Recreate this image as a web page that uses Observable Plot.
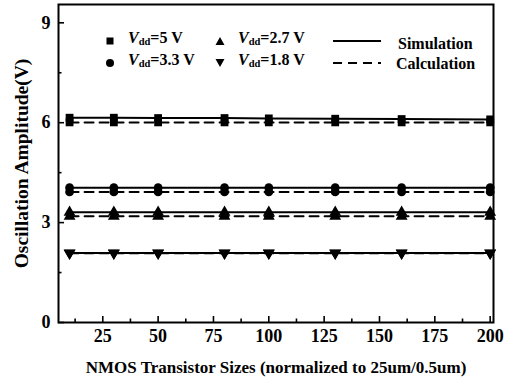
<!DOCTYPE html>
<html><head><meta charset="utf-8">
<script src="https://cdn.jsdelivr.net/npm/d3@7"></script>
<script src="https://cdn.jsdelivr.net/npm/@observablehq/plot@0.6"></script>
<style>
body{margin:0;background:#fff;font-family:"Liberation Serif","Times New Roman",Times,serif;}
#wrap{position:relative;width:506px;height:383px;}
#chart svg text{font-family:"Liberation Serif","Times New Roman",Times,serif;font-weight:bold;}
#legend{position:absolute;left:0;top:0;font-weight:bold;font-size:16px;color:#000;}
#legend .it{position:absolute;white-space:nowrap;line-height:16px;}
#legend i sub{font-style:normal;font-size:10.5px;vertical-align:-2px;}
</style></head>
<body><div id="wrap"><div id="chart"></div><div id="legend"></div></div>
<script>
const sizes = [10, 30, 50, 80, 100, 130, 160, 200];
const sim5  = [6.15, 6.15, 6.14, 6.14, 6.13, 6.12, 6.11, 6.10];
const calc5 = [6.01, 6.01, 6.01, 6.01, 6.01, 6.01, 6.01, 6.01];
const sim33  = [4.05, 4.05, 4.05, 4.05, 4.05, 4.05, 4.05, 4.05];
const calc33 = [3.92, 3.92, 3.92, 3.92, 3.92, 3.92, 3.92, 3.92];
const sim27  = [3.31, 3.31, 3.31, 3.31, 3.31, 3.31, 3.31, 3.31];
const calc27 = [3.19, 3.19, 3.19, 3.19, 3.19, 3.19, 3.19, 3.19];
const sim18  = [2.09, 2.09, 2.09, 2.09, 2.09, 2.09, 2.09, 2.09];
const calc18 = [2.08, 2.08, 2.08, 2.08, 2.08, 2.08, 2.08, 2.08];
const xTicks = [25, 50, 75, 100, 125, 150, 175, 200];
const xMinor = [12.5, 37.5, 62.5, 87.5, 112.5, 137.5, 162.5, 187.5];
const yTicks = [0, 3, 6, 9];
const yMinor = [1.5, 4.5, 7.5];

const seriesDefs = [
  {name:"5V", sim:sim5, calc:calc5, symbol:"square", rotate:0},
  {name:"3.3V", sim:sim33, calc:calc33, symbol:"circle", rotate:0},
  {name:"2.7V", sim:sim27, calc:calc27, symbol:"triangle", rotate:0},
  {name:"1.8V", sim:sim18, calc:calc18, symbol:"triangle", rotate:180},
];
const simRows = [], calcRows = [];
for (const s of seriesDefs) {
  sizes.forEach((x,i)=>{
    simRows.push({x, y:s.sim[i], k:s.name, symbol:s.symbol, rotate:s.rotate});
    calcRows.push({x, y:s.calc[i], k:s.name, symbol:s.symbol, rotate:s.rotate});
  });
}

const xDom = [5, 201.5], yDom = [0, 9.55];
const pxX = (201.5-5)/435, pxY = 9.55/318;

const marks = [
  Plot.line(calcRows, {x:"x", y:"y", z:"k", stroke:"#000", strokeWidth:2, strokeDasharray:"9,6"}),
  Plot.line(simRows, {x:"x", y:"y", z:"k", stroke:"#000", strokeWidth:2}),
  Plot.dot(calcRows, {x:"x", y:"y", symbol:"symbol", rotate:"rotate", r:4.4, fill:"#000", stroke:"none"}),
  Plot.dot(simRows, {x:"x", y:"y", symbol:"symbol", rotate:"rotate", r:4.4, fill:"#000", stroke:"none"}),
  Plot.ruleX(xTicks, {x:d=>d, y1:0, y2:6*pxY, stroke:"#000", strokeWidth:1.6}),
  Plot.ruleX(xMinor, {x:d=>d, y1:0, y2:3.5*pxY, stroke:"#000", strokeWidth:1.6}),
  Plot.ruleY(yTicks, {y:d=>d, x1:xDom[0], x2:xDom[0]+6*pxX, stroke:"#000", strokeWidth:1.6}),
  Plot.ruleY(yMinor, {y:d=>d, x1:xDom[0], x2:xDom[0]+3.5*pxX, stroke:"#000", strokeWidth:1.6}),
  Plot.axisX(xTicks, {tickSize:0, tickPadding:7, fontSize:18, fontWeight:"bold", label:"NMOS Transistor Sizes (normalized to 25um/0.5um)", labelAnchor:"center", labelArrow:"none", labelOffset:50}),
  Plot.axisY(yTicks, {tickSize:0, tickPadding:8, fontSize:18, fontWeight:"bold", label:"Oscillation Amplitude(V)", labelAnchor:"center", labelArrow:"none", labelOffset:44}),
  Plot.frame({stroke:"#000", strokeWidth:2}),
];

const chart = Plot.plot({
  width:506, height:383,
  marginLeft:58, marginRight:13, marginTop:4, marginBottom:61,
  style:{fontFamily:"'Liberation Serif', serif", fontWeight:"bold", fontSize:"18px", color:"#000", background:"#fff"},
  x:{domain:xDom}, y:{domain:yDom},
  symbol:{type:"identity"},
  marks
});
document.getElementById("chart").appendChild(chart);
chart.querySelectorAll("g[aria-label='x-axis label'] text").forEach(t=>{t.setAttribute("font-size","17");});
chart.querySelectorAll("g[aria-label='y-axis label'] text").forEach(t=>{t.setAttribute("font-size","19.5");});

// Legend
const legend = document.getElementById("legend");
function item(left, top, html){const d=document.createElement("div");d.className="it";d.style.left=left+"px";d.style.top=top+"px";d.innerHTML=html;legend.appendChild(d);}
function sym(left, top, shape){
  const s = {square:'<rect x="1.5" y="1.5" width="7" height="7"/>', circle:'<circle cx="5" cy="5" r="4"/>', up:'<path d="M5,1 L9.5,9 L0.5,9Z"/>', down:'<path d="M5,9 L9.5,1 L0.5,1Z"/>'}[shape];
  item(left, top, `<svg width="10" height="10" style="display:block"><g fill="#000">${s}</g></svg>`);
}
const vdd = v => `<i>V<sub>dd</sub></i>=${v} V`;
sym(105, 36, "square"); item(128, 30, vdd("5"));
sym(105, 58, "circle"); item(128, 52, vdd("3.3"));
sym(215, 36, "up");     item(238, 30, vdd("2.7"));
sym(215, 58, "down");   item(238, 52, vdd("1.8"));
item(333, 32, '<svg width="48" height="16" style="display:block"><line x1="0" y1="9" x2="48" y2="9" stroke="#000" stroke-width="2"/></svg>');
item(333, 54, '<svg width="48" height="16" style="display:block"><line x1="0" y1="9" x2="48" y2="9" stroke="#000" stroke-width="2" stroke-dasharray="9,6"/></svg>');
item(398, 36, "Simulation");
item(396, 56, "Calculation");
</script>
</body></html>
